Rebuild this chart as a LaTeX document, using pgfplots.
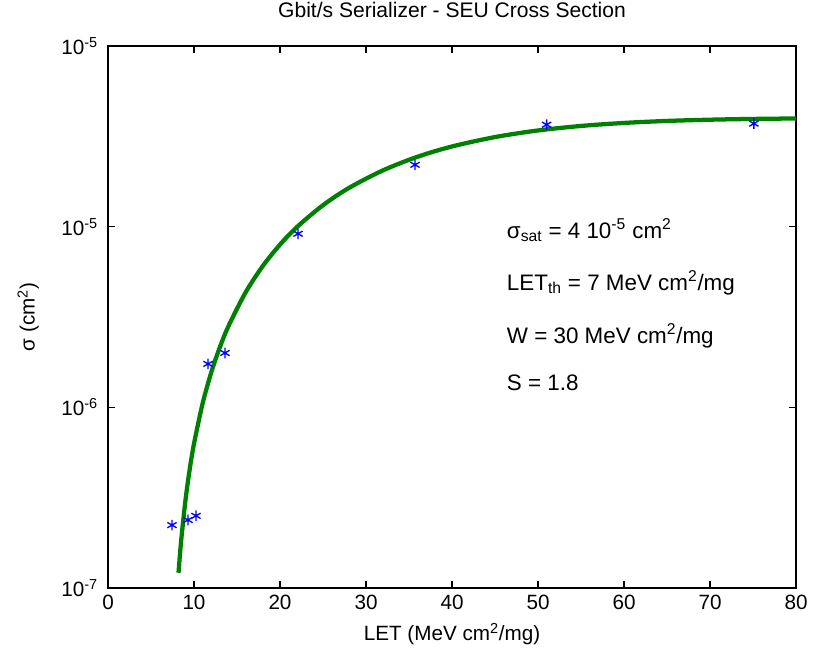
\documentclass[border=0pt]{standalone}
\usepackage{fontspec}
\setmainfont{Liberation Sans}
\usepackage{pgfplots}
\pgfplotsset{compat=1.18}
\definecolor{fitgreen}{RGB}{0,128,0}
\definecolor{ptblue}{RGB}{0,0,255}
\begin{document}
\begin{tikzpicture}
\begin{axis}[
  scale only axis,
  width=516pt, height=406.5pt,
  ymode=log,
  xmin=0, xmax=80, ymin=1e-7, ymax=1e-4,
  xtick={0,10,...,80},
  ytick={1e-7,1e-6,1e-5,1e-4},
  yticklabels={10\textsuperscript{-7},10\textsuperscript{-6},10\textsuperscript{-5},10\textsuperscript{-5}},
  yminorticks=false,
  tick align=inside,
  major tick length=5pt,
  every tick/.style={black, line width=1.2pt},
  axis line style={line width=1.5pt},
  /pgf/number format/assume math mode=true,
  tick label style={font=\fontsize{15.5}{18}\selectfont},
  xticklabel style={yshift=-2pt},
  yticklabel style={xshift=-4pt},
  title={Gbit/s Serializer - SEU Cross Section},
  title style={font=\fontsize{15.8}{18}\selectfont, at={(axis description cs:0.5,1.052)}, anchor=center},
  xlabel={LET (MeV cm\textsuperscript{2}/mg)},
  xlabel style={font=\fontsize{15.5}{18}\selectfont, at={(axis description cs:0.5,-0.085)}, anchor=center},
  ylabel={σ (cm\textsuperscript{2})},
  ylabel style={font=\fontsize{15.5}{18}\selectfont, at={(axis description cs:-0.116,0.5)}, anchor=center},
]
% Weibull fit
\addplot[fitgreen, line width=3.2pt, smooth] coordinates {
 (8.2,1.215e-7) (8.5,1.815e-7) (9,3.04e-7) (9.5,4.54e-7) (10,6.29e-7)
 (11,1.050e-6) (12,1.558e-6) (13,2.148e-6) (14,2.810e-6) (16,4.328e-6)
 (18,6.06e-6) (20,7.96e-6) (22,9.99e-6) (25,1.315e-5) (28,1.637e-5)
 (32,2.053e-5) (36,2.439e-5) (40,2.780e-5) (45,3.134e-5) (50,3.409e-5)
 (55,3.611e-5) (60,3.753e-5) (65,3.849e-5) (70,3.911e-5) (75,3.949e-5)
 (80,3.972e-5)
};
% measured points
\addplot[only marks, mark=asterisk, mark size=4pt, ptblue, mark options={line width=1pt}] coordinates {
 (7.44,2.23e-7) (9.3,2.38e-7) (10.23,2.51e-7) (11.63,1.74e-6) (13.6,2.0e-6)
 (22.1,9.14e-6) (35.7,2.2e-5) (51.0,3.67e-5) (75.1,3.72e-5)
};
\node[anchor=west, font=\fontsize{16.8}{20}\selectfont] at (rel axis cs:0.573,0.66) {σ\textsubscript{sat} = 4 10\textsuperscript{-5} cm\textsuperscript{2}};
\node[anchor=west, font=\fontsize{16.8}{20}\selectfont] at (rel axis cs:0.573,0.563) {LET\textsubscript{th} = 7 MeV cm\textsuperscript{2}/mg};
\node[anchor=west, font=\fontsize{16.8}{20}\selectfont] at (rel axis cs:0.573,0.465) {W = 30 MeV cm\textsuperscript{2}/mg};
\node[anchor=west, font=\fontsize{16.8}{20}\selectfont] at (rel axis cs:0.573,0.378) {S = 1.8};
\coordinate (bl) at (rel axis cs:0,0);
\coordinate (tr) at (rel axis cs:1,1);
\end{axis}
\pgfresetboundingbox
\path (bl) ++(-81pt,-47.25pt) rectangle (tr) ++(18pt,34.5pt);
\end{tikzpicture}
\end{document}
